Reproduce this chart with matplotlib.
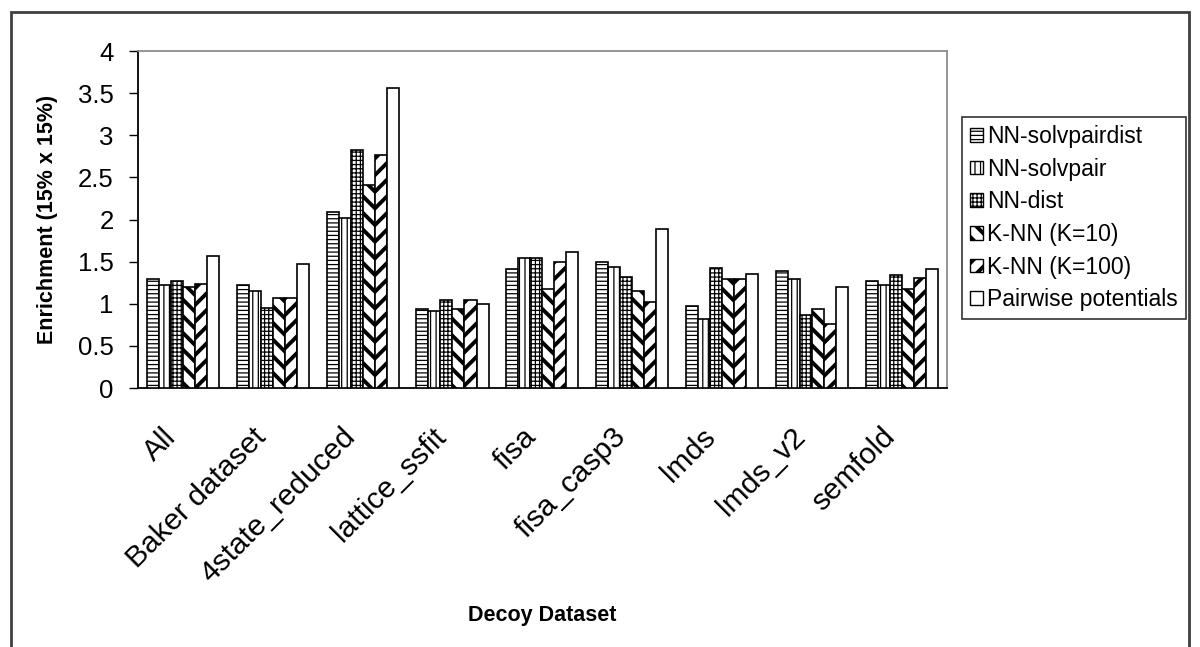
import numpy as np
import matplotlib
matplotlib.use("Agg")
import matplotlib.pyplot as plt
import matplotlib.patches as mpatches
from matplotlib.transforms import ScaledTranslation

# ── data ─────────────────────────────────────────────────────────────────────
datasets = ["All", "Baker dataset", "4state_reduced", "lattice_ssfit", "fisa",
            "fisa_casp3", "lmds", "lmds_v2", "semfold"]
series_names = ["NN-solvpairdist", "NN-solvpair", "NN-dist",
                "K-NN (K=10)", "K-NN (K=100)", "Pairwise potentials"]
nn_solvpairdist = [1.29, 1.22, 2.09, 0.935, 1.41, 1.50, 0.97, 1.39, 1.27]
nn_solvpair     = [1.22, 1.15, 2.02, 0.915, 1.54, 1.44, 0.82, 1.29, 1.22]
nn_dist         = [1.27, 0.95, 2.83, 1.05, 1.54, 1.32, 1.42, 0.87, 1.34]
knn_10          = [1.20, 1.07, 2.41, 0.935, 1.17, 1.15, 1.29, 0.94, 1.17]
knn_100         = [1.235, 1.07, 2.76, 1.04, 1.50, 1.02, 1.29, 0.765, 1.31]
pairwise        = [1.57, 1.47, 3.56, 1.00, 1.62, 1.89, 1.35, 1.20, 1.41]
yticks = [0, 0.5, 1, 1.5, 2, 2.5, 3, 3.5, 4]

# ── style ────────────────────────────────────────────────────────────────────
plt.rcParams["font.family"] = ["Liberation Sans", "DejaVu Sans"]
plt.rcParams["hatch.color"] = "black"

# hatch pattern, hatch linewidth per series
STYLES = [("----", 0.9), ("|||", 0.9), ("++++", 0.9),
          ("\\\\", 2.8), ("//", 2.8), ("", 0.9)]


def set_hlw(patch, lw):
    if hasattr(patch, "set_hatch_linewidth"):
        patch.set_hatch_linewidth(lw)
    else:
        patch._hatch_linewidth = lw


fig = plt.figure(figsize=(12, 6.47), dpi=100)
ax = fig.add_axes([138 / 1200, 1 - 388 / 647, (946.7 - 138) / 1200, 337 / 647])

x = np.arange(len(datasets))
BAR_W = 0.1336
values = [nn_solvpairdist, nn_solvpair, nn_dist, knn_10, knn_100, pairwise]
handles = []
for i, (vals, name, (hatch, hlw)) in enumerate(zip(values, series_names, STYLES)):
    with plt.rc_context({"hatch.linewidth": hlw}):
        bars = ax.bar(x + (i - 2.5) * BAR_W, vals, width=BAR_W, color="white",
                      edgecolor="black", linewidth=1.2, hatch=hatch,
                      label=name, zorder=3)
        for b in bars:
            set_hlw(b, hlw)
        h = mpatches.Patch(facecolor="white", edgecolor="black", linewidth=1.0,
                           hatch=hatch, label=name)
        set_hlw(h, hlw)
        handles.append(h)

ax.set_xlim(-0.5, len(datasets) - 0.5)
ax.set_ylim(0, 4)
ax.set_yticks(yticks)
ax.set_yticklabels([f"{v:g}" for v in yticks], fontsize=18.5)
ax.tick_params(axis="y", direction="out", length=6.5, width=1.0, pad=11)
ax.set_xticks(x)
ax.set_xticklabels(datasets, fontsize=21.5, rotation=45, ha="right",
                   va="center", rotation_mode="anchor")
ax.tick_params(axis="x", length=0, pad=32)
offset = ScaledTranslation(-11 / 100, 0, fig.dpi_scale_trans)
for lbl in ax.get_xticklabels():
    lbl.set_transform(lbl.get_transform() + offset)

for s in ("left", "bottom"):
    ax.spines[s].set_color("black")
    ax.spines[s].set_linewidth(1.3)
for s in ("top", "right"):
    ax.spines[s].set_color("#8c8c8c")
    ax.spines[s].set_linewidth(1.3)

ax.set_xlabel("Decoy Dataset", fontsize=15.5, fontweight="bold")
ax.xaxis.set_label_coords(0.5, -0.644)
ax.set_ylabel("Enrichment (15% x 15%)", fontsize=15.5, fontweight="bold")
ax.yaxis.set_label_coords(-0.099, 0.5)

leg = fig.legend(handles=handles, loc="upper left",
                 bbox_to_anchor=(962 / 1200, 1 - 117 / 647),
                 fontsize=16.5, frameon=True, fancybox=False,
                 edgecolor="black", borderaxespad=0, borderpad=0.35,
                 handlelength=0.55, handleheight=0.55, handletextpad=0.2,
                 labelspacing=0.42)
leg.get_frame().set_linewidth(1.2)
for p, (hatch, hlw) in zip(leg.legend_handles, STYLES):
    set_hlw(p, hlw)

# outer chart frame
frame = mpatches.Rectangle((11 / 1200, -0.02), (1189 - 11) / 1200,
                           1 - 12 / 647 + 0.02, transform=fig.transFigure,
                           fill=False, edgecolor="#404040", linewidth=2.0)
fig.patches.append(frame)

fig.savefig("out.png", dpi=100)
